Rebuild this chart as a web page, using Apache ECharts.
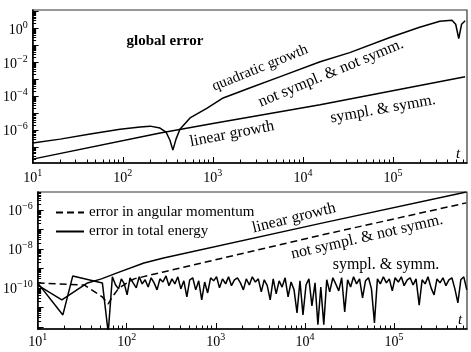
<!DOCTYPE html>
<html>
<head>
<meta charset="utf-8">
<script src="https://cdn.jsdelivr.net/npm/echarts@6/dist/echarts.min.js"></script>
<style>
  html, body { margin: 0; padding: 0; background: #fff; }
  #chart { width: 471px; height: 352px; }
</style>
</head>
<body>
<div id="chart"></div>
<script>
// ---- data (t, error) ----
// top panel: global error
const glbNsT = [10, 20.2, 43.5, 93.5, 156, 201, 259, 302, 334, 360, 390, 431, 558, 864, 1300, 2600, 5500, 15500, 33000, 92000, 197000, 330000, 450000, 495000, 535000, 575000, 630000];
const glbNsE = [1.7e-7, 2.9e-7, 5.8e-7, 1.1e-6, 1.5e-6, 1.7e-6, 1.3e-6, 7.6e-7, 2.5e-7, 6.5e-8, 2.9e-7, 1.1e-6, 5.2e-6, 2.0e-5, 7.9e-5, 3.2e-4, 1.4e-3, 1.1e-2, 3.8e-2, 0.30, 1.2, 2.7, 3.1, 1.8, 0.26, 1.8, 2.9];
const glbSyT = [10, 260, 1000, 15500, 630000];
const glbSyE = [1.9e-8, 6.6e-7, 2.4e-6, 3.1e-5, 1.4e-3];

// bottom panel: angular momentum (not sympl.), energy (not sympl.), energy (sympl. & symm.)
const angT = [10, 33.6, 53, 62, 69, 82, 101, 121, 259, 15500, 650000];
const angE = [1.8e-10, 1.4e-10, 3.5e-11, 1.5e-11, 3.5e-11, 1e-10, 1.8e-10, 2.9e-10, 6.6e-10, 5.2e-8, 2.3e-6];
const enNsT = [10, 18.7, 36.3, 52, 78, 156, 259, 15500, 650000];
const enNsE = [1.4e-10, 2.4e-11, 1.8e-10, 2.9e-10, 5.9e-10, 1.9e-9, 3.4e-9, 2.1e-7, 8.3e-6];
const enSyT = [10, 19.2, 24.8, 53.3, 62,
  69, 75, 81, 87, 94, 101, 109, 118, 128, 138, 149, 161, 174, 188, 203, 219, 236, 255, 276, 298,
  322, 347, 375, 405, 438, 473, 510, 551, 595, 643, 695, 750, 810, 875, 945, 1020, 1100, 1190, 1290, 1390,
  1500, 1620, 1750, 1890, 2040, 2200, 2380, 2570, 2780, 3000, 3240, 3500, 3780, 4080, 4410, 4760, 5140, 5550, 6000, 6480,
  7000, 7560, 8160, 8810, 9520, 10300, 11100, 12000, 13000, 14000, 15100, 16300, 17600, 19000, 20600, 22200, 24000, 25900, 28000, 30200,
  32600, 35200, 38000, 41100, 44400, 47900, 51800, 55900, 60400, 65200, 70400, 76100, 82200, 88700, 95800, 103000, 112000, 121000, 130000, 141000,
  152000, 164000, 177000, 192000, 207000, 224000, 241000, 261000, 282000, 304000, 329000, 355000, 383000, 414000, 447000, 483000, 522000, 563000, 608000, 657000];
const enSyE = [1.8e-10, 4.1e-12, 4.1e-10, 1.8e-10, 5e-13,
  3.7e-10, 1.4e-10, 8.9e-11, 2.9e-10, 1.6e-10, 4.4e-11, 3.3e-10, 1.8e-10, 1.0e-10, 3.7e-10, 1.6e-10, 2.6e-10, 1.1e-10, 3.3e-10, 1.8e-10, 7.9e-11, 2.9e-10, 2.0e-10, 4.1e-10, 1.3e-10,
  2.9e-10, 1.6e-10, 3.7e-10, 8.9e-11, 2.3e-10, 3.5e-11, 2.6e-10, 3.3e-10, 7.9e-11, 2.3e-10, 2.4e-11, 2.0e-10, 5.5e-11, 3.3e-10, 2.3e-10, 3.7e-10, 1.0e-10, 2.9e-10, 1.6e-10, 3.7e-10,
  1.3e-10, 2.6e-10, 3.3e-10, 1.8e-10, 7.9e-11, 2.9e-10, 1.4e-10, 3.7e-10, 2.0e-10, 2.9e-10, 6.2e-11, 2.6e-10, 1.3e-10, 2.4e-11, 2.9e-10, 4.9e-11, 2.3e-10, 1.1e-10, 3.3e-10, 3.5e-11,
  2.0e-10, 7.9e-11, 5.2e-12, 2.3e-10, 4.1e-12, 1.4e-10, 2.9e-10, 1.2e-11, 1.8e-10, 1.3e-12, 1.1e-10, 1.3e-12, 2.6e-10, 6.2e-11, 3.3e-10, 1.6e-10, 7.0e-11, 3.3e-10, 5.9e-12, 2.6e-10,
  1.1e-10, 3.7e-10, 1.6e-10, 2.9e-10, 3.1e-11, 2.3e-10, 3.3e-10, 8.9e-11, 1.6e-12, 2.9e-10, 1.6e-10, 3.7e-10, 1.8e-10, 2.9e-10, 7.0e-11, 3.3e-10, 2.0e-10, 3.7e-10, 1.3e-10, 2.6e-10,
  3.3e-10, 1.4e-10, 2.9e-10, 1.3e-11, 2.6e-10, 1.6e-10, 3.7e-10, 1.0e-10, 4.4e-11, 2.9e-10, 1.8e-10, 3.3e-10, 1.3e-10, 2.6e-10, 3.3e-10, 8.9e-11, 1.7e-11, 2.6e-10, 3.7e-10, 7.9e-11];

// axis ranges (decades)
const X_MIN = 1, X_MAX = 5.82;
const TOP_Y = [-7.95, 1.1];
const BOT_Y = [-12.11, -5.08];
const xLabelExp = [1, 2, 3, 4, 5];
const topLabelExp = [-6, -4, -2, 0];
const botLabelExp = [-10, -8, -6];

const FONT = '"Liberation Serif", "DejaVu Serif", serif';

const pairs = (ts, es) => ts.map((t, i) => [Math.log10(t), Math.log10(es[i])]);

function decadeTicks(lo, hi) {
  const major = [], minor = [];
  for (let n = Math.floor(lo); n <= Math.ceil(hi); n++) {
    if (n >= lo && n <= hi) major.push(n);
    for (let k = 2; k <= 9; k++) {
      const v = n + Math.log10(k);
      if (v > lo && v < hi) minor.push(v);
    }
  }
  return { major, minor };
}

const pow10 = (v) => {
  const e = Math.round(v);
  return '{b|10}{e|' + (e < 0 ? '\u2212' + (-e) : e) + '}';
};
const labelRich = {
  b: { fontFamily: FONT, fontSize: 14, color: '#000', lineHeight: 17, verticalAlign: 'bottom' },
  e: { fontFamily: FONT, fontSize: 10, color: '#000', lineHeight: 10, verticalAlign: 'top' }
};

function axesPair(dim, gridIndex, range, labels, margin) {
  const t = decadeTicks(range[0], range[1]);
  const base = {
    type: 'value', gridIndex, min: range[0], max: range[1],
    position: dim === 'x' ? 'bottom' : 'left',
    splitLine: { show: false }
  };
  return [
    Object.assign({}, base, {
      axisLine: { show: true, onZero: false, lineStyle: { color: '#000', width: 1.5 } },
      axisTick: { show: true, inside: true, length: 6, customValues: t.major, lineStyle: { color: '#000', width: 1 } },
      axisLabel: { show: true, customValues: labels, formatter: pow10, rich: labelRich, margin }
    }),
    Object.assign({}, base, {
      axisLine: { show: false, onZero: false },
      axisTick: { show: true, inside: true, length: 3.5, customValues: t.minor, lineStyle: { color: '#000', width: 1 } },
      axisLabel: { show: false }
    })
  ];
}

const xRange = [X_MIN, X_MAX];
const xAxis = [
  ...axesPair('x', 0, xRange, xLabelExp, 5),
  ...axesPair('x', 1, xRange, xLabelExp, 3)
];
const yAxis = [
  ...axesPair('y', 0, TOP_Y, topLabelExp, 5),
  ...axesPair('y', 1, BOT_Y, botLabelExp, 5)
];

const lineSeries = (name, xi, yi, data, dashed) => ({
  name, type: 'line', xAxisIndex: xi, yAxisIndex: yi, data,
  showSymbol: false, symbol: 'none', clip: true,
  lineStyle: { color: '#000', width: 1.5, type: dashed ? [7, 4] : 'solid' },
  itemStyle: { color: '#000' }
});

const txt = (text, x, y, deg, extra) => ({
  type: 'text', x, y, rotation: deg * Math.PI / 180, silent: true,
  style: Object.assign({ text, font: '15px ' + FONT, fill: '#000', align: 'center', verticalAlign: 'middle' }, extra || {})
});

const chart = echarts.init(document.getElementById('chart'), null, { renderer: 'canvas' });
chart.setOption({
  animation: false,
  backgroundColor: '#fff',
  grid: [
    { left: 32.5, right: 4, top: 10, height: 153, show: true, borderColor: '#333', borderWidth: 1.2, backgroundColor: 'transparent' },
    { left: 32.5, right: 4, top: 192, height: 137, show: true, borderColor: '#333', borderWidth: 1.2, backgroundColor: 'transparent' }
  ],
  xAxis,
  yAxis,
  legend: {
    data: ['error in angular momentum', 'error in total energy'],
    orient: 'vertical', left: 50, top: 200, itemWidth: 28, itemHeight: 14, itemGap: 4,
    selectedMode: false,
    itemStyle: { opacity: 0 },
    textStyle: { fontFamily: FONT, fontSize: 15, color: '#000' }
  },
  series: [
    lineSeries('global not sympl.', 0, 0, pairs(glbNsT, glbNsE)),
    lineSeries('global sympl.', 0, 0, pairs(glbSyT, glbSyE)),
    lineSeries('error in angular momentum', 2, 2, pairs(angT, angE), true),
    lineSeries('energy not sympl.', 2, 2, pairs(enNsT, enNsE)),
    lineSeries('error in total energy', 2, 2, pairs(enSyT, enSyE))
  ],
  graphic: [
    txt('global error', 165, 41, 0, { font: 'bold 15px ' + FONT }),
    txt('quadratic growth', 260, 68, 22),
    txt('not sympl. & not symm.', 331, 73, 22.5, { font: '16px ' + FONT }),
    txt('linear growth', 232, 134, 11, { font: '16px ' + FONT }),
    txt('sympl. & symm.', 383, 109, 10, { font: '16px ' + FONT }),
    txt('t', 458, 154, 0, { font: 'italic 15px ' + FONT }),
    txt('linear growth', 294, 218, 14, { font: '16px ' + FONT }),
    txt('not sympl. & not symm.', 367, 237, 13, { font: '16px ' + FONT }),
    txt('sympl. & symm.', 386, 265, 0, { font: '16px ' + FONT }),
    txt('t', 460, 320, 0, { font: 'italic 15px ' + FONT })
  ]
});
</script>
</body>
</html>
